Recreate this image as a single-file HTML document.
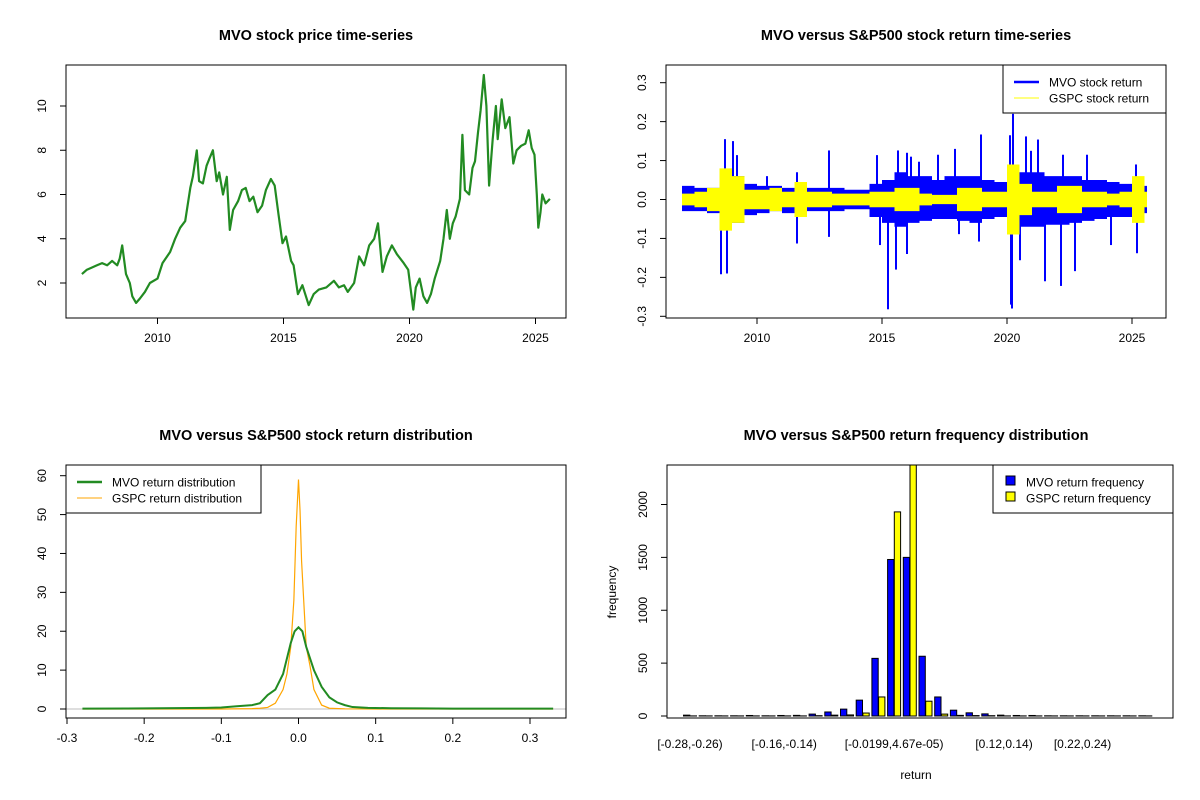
<!DOCTYPE html>
<html><head><meta charset="utf-8">
<style>
html,body{margin:0;padding:0;background:#fff;}
svg{display:block;font-family:"Liberation Sans",Arial,sans-serif;}
</style></head>
<body>
<svg id="s" width="1200" height="800" viewBox="0 0 1200 800"></svg>
<script>
// ---------- data ----------
const priceYears=[2007.0,2007.2,2007.4,2007.6,2007.8,2008.0,2008.2,2008.4,2008.5,2008.6,2008.75,2008.9,2009.0,2009.15,2009.3,2009.5,2009.7,2010.0,2010.2,2010.5,2010.7,2010.9,2011.1,2011.3,2011.4,2011.56,2011.65,2011.8,2011.95,2012.05,2012.2,2012.35,2012.45,2012.6,2012.75,2012.87,2013.0,2013.2,2013.35,2013.5,2013.65,2013.8,2013.97,2014.15,2014.3,2014.5,2014.65,2014.8,2014.96,2015.1,2015.3,2015.4,2015.57,2015.75,2016.0,2016.2,2016.4,2016.7,2017.0,2017.2,2017.4,2017.55,2017.8,2018.0,2018.2,2018.4,2018.6,2018.75,2018.93,2019.1,2019.3,2019.5,2019.77,2019.95,2020.15,2020.25,2020.4,2020.55,2020.7,2020.85,2021.0,2021.22,2021.35,2021.48,2021.6,2021.72,2021.83,2022.0,2022.1,2022.2,2022.37,2022.5,2022.6,2022.72,2022.82,2022.95,2023.05,2023.16,2023.3,2023.43,2023.5,2023.66,2023.8,2023.97,2024.12,2024.25,2024.43,2024.6,2024.73,2024.85,2024.96,2025.05,2025.11,2025.2,2025.27,2025.4,2025.57];
const priceVals=[2.4,2.6,2.7,2.8,2.9,2.8,3.0,2.8,3.1,3.7,2.4,2.0,1.4,1.1,1.3,1.6,2.0,2.2,2.9,3.4,4.0,4.5,4.8,6.3,6.8,8.0,6.6,6.5,7.3,7.6,8.0,6.6,7.0,6.0,6.8,4.4,5.3,5.7,6.2,6.3,5.7,5.9,5.2,5.5,6.2,6.7,6.4,5.1,3.8,4.1,3.0,2.8,1.5,1.9,1.0,1.5,1.7,1.8,2.1,1.8,1.9,1.6,2.0,3.2,2.8,3.7,4.0,4.7,2.5,3.2,3.7,3.3,2.9,2.6,0.8,1.8,2.2,1.4,1.1,1.5,2.2,3.0,4.0,5.3,4.0,4.7,5.0,5.8,8.7,6.2,6.0,7.2,7.5,8.8,9.8,11.4,10.0,6.4,8.5,10.0,8.5,10.3,9.0,9.5,7.4,8.0,8.2,8.3,8.9,8.1,7.8,6.0,4.5,5.2,6.0,5.6,5.8];

const bandYears=[2007.0,2007.5,2008.0,2008.5,2009.0,2009.5,2010.0,2010.5,2011.0,2011.5,2012.0,2012.5,2013.0,2013.5,2014.0,2014.5,2015.0,2015.5,2016.0,2016.5,2017.0,2017.5,2018.0,2018.5,2019.0,2019.5,2020.0,2020.5,2021.0,2021.5,2022.0,2022.5,2023.0,2023.5,2024.0,2024.5,2025.0,2025.5];
const mvoUp=[0.035,0.03,0.03,0.06,0.06,0.04,0.035,0.035,0.03,0.04,0.03,0.03,0.03,0.025,0.025,0.04,0.05,0.07,0.06,0.06,0.05,0.06,0.06,0.06,0.05,0.045,0.08,0.07,0.07,0.06,0.06,0.06,0.05,0.05,0.045,0.04,0.05,0.035];
const mvoDn=[-0.03,-0.03,-0.035,-0.06,-0.06,-0.04,-0.035,-0.03,-0.035,-0.045,-0.03,-0.03,-0.03,-0.025,-0.025,-0.045,-0.06,-0.07,-0.06,-0.055,-0.05,-0.05,-0.055,-0.06,-0.05,-0.045,-0.08,-0.07,-0.07,-0.065,-0.065,-0.06,-0.055,-0.05,-0.045,-0.045,-0.055,-0.035];
const gspcAmp=[0.015,0.02,0.03,0.08,0.06,0.025,0.025,0.03,0.02,0.045,0.02,0.02,0.015,0.015,0.015,0.02,0.02,0.03,0.03,0.015,0.012,0.012,0.03,0.03,0.02,0.02,0.09,0.04,0.02,0.02,0.035,0.035,0.02,0.02,0.015,0.02,0.06,0.02];
const spikeYears=[2008.72,2009.04,2009.2,2008.56,2012.88,2011.6,2010.4,2014.8,2015.64,2016.0,2016.16,2016.48,2017.24,2017.92,2018.96,2020.24,2020.12,2020.76,2021.24,2020.96,2022.24,2023.2,2025.16,2008.56,2008.8,2011.6,2012.88,2015.24,2014.92,2015.56,2016.0,2020.16,2020.2,2020.52,2021.52,2022.16,2022.72,2024.16,2025.2,2018.88,2018.08];
const spikeVals=[0.155,0.15,0.114,0.07,0.126,0.07,0.06,0.114,0.126,0.12,0.11,0.097,0.115,0.13,0.167,0.22,0.165,0.162,0.154,0.125,0.115,0.115,0.09,-0.192,-0.19,-0.113,-0.096,-0.282,-0.117,-0.18,-0.14,-0.27,-0.28,-0.156,-0.21,-0.222,-0.184,-0.117,-0.138,-0.108,-0.089];

const densX=[-0.28,-0.2,-0.12,-0.1,-0.08,-0.06,-0.05,-0.04,-0.03,-0.02,-0.01,-0.005,0,0.005,0.01,0.02,0.03,0.04,0.05,0.06,0.07,0.09,0.12,0.16,0.2,0.33];
const mvoDens=[0.1,0.15,0.3,0.4,0.7,1.0,1.5,3.6,5.0,9.0,17,20,21,20,16,10,5.7,3.0,1.7,1.0,0.5,0.3,0.2,0.15,0.1,0.1];
const gspcDensX=[-0.28,-0.1,-0.06,-0.05,-0.04,-0.03,-0.02,-0.015,-0.01,-0.006,-0.003,0,0.002,0.004,0.01,0.015,0.02,0.03,0.04,0.06,0.1,0.33];
const gspcDens=[0,0,0.1,0.2,0.4,1.5,5,9,16,28,47,59,51,38,16,11,5,1,0.2,0.05,0,0];

const histLabels=["[-0.28,-0.26)","","","","","","[-0.16,-0.14)","","","","","","","[-0.0199,4.67e-05)","","","","","","","[0.12,0.14)","","","","","[0.22,0.24)","","","",""];
const mvoFreq=[8,2,2,2,5,2,5,6,18,38,65,150,545,1480,1500,565,180,55,30,20,8,5,5,2,2,2,2,2,2,2];
const gspcFreq=[1,1,1,1,1,1,1,1,3,8,10,28,180,1930,2400,140,18,6,4,3,1,1,1,1,1,1,1,1,1,1];

// ---------- helpers ----------
const S=document.getElementById('s');
const NS='http://www.w3.org/2000/svg';
function mk(tag,attrs,parent){const e=document.createElementNS(NS,tag);for(const k in attrs)e.setAttribute(k,attrs[k]);(parent||S).appendChild(e);return e;}
function txt(x,y,str,opts,parent){const t=mk('text',Object.assign({x:x,y:y,'font-size':12,fill:'#000','text-anchor':'middle'},opts||{}),parent);t.textContent=str;return t;}
function lin(a,b,c,d){return v=>c+(v-a)*(d-c)/(b-a);}

// ---------- panel 1: price ----------
(function(){
 const g=mk('g',{});
 const L=66,R=566,T=65,B=318;
 const X=lin(2010,2025,157.5,535.5), Y=lin(2,10,283,106);
 let t=txt(316,40,'MVO stock price time-series',{'font-size':14.5,'font-weight':'bold'},g);
 let p=mk('polyline',{points:priceYears.map((y,i)=>X(y).toFixed(1)+','+Y(priceVals[i]).toFixed(1)).join(' '),fill:'none',stroke:'#228B22','stroke-width':2.2,'stroke-linejoin':'round'},g);
 
 let r=mk('rect',{x:L,y:T,width:R-L,height:B-T,fill:'none',stroke:'#000'},g);
 [2010,2015,2020,2025].forEach(v=>{mk('line',{x1:X(v),x2:X(v),y1:B,y2:B+6,stroke:'#000'},g);let l=txt(X(v),B+24,String(v),{},g);});
 [2,4,6,8,10].forEach(v=>{mk('line',{x1:L,x2:L-6,y1:Y(v),y2:Y(v),stroke:'#000'},g);let l=txt(0,0,String(v),{transform:`translate(46,${Y(v)}) rotate(-90)`},g);});
})();

// ---------- panel 2: returns ----------
(function(){
 const g=mk('g',{});
 const L=666,R=1166,T=65,B=318;
 const X=lin(2010,2025,757,1132), Y=lin(0,0.3,199.5,82.7);
 let t=txt(916,40,'MVO versus S&P500 stock return time-series',{'font-size':14.5,'font-weight':'bold'},g);
 const endY=2025.6;
 function band(up,dn,col,name){
   let top=[],bot=[];
   bandYears.forEach((y,i)=>{const y2=i<bandYears.length-1?bandYears[i+1]:endY;
     top.push(X(y)+','+Y(up[i]),X(y2)+','+Y(up[i]));
     bot.push(X(y)+','+Y(dn[i]),X(y2)+','+Y(dn[i]));});
   bot.reverse();
   let p=mk('polygon',{points:top.concat(bot).join(' '),fill:col},g);
 }
 band(mvoUp,mvoDn,'#0000FF','mvo-return-band');
 spikeYears.forEach((y,i)=>{let l=mk('line',{x1:X(y),x2:X(y),y1:Y(0),y2:Y(spikeVals[i]),stroke:'#0000FF','stroke-width':2},g);});
 band(gspcAmp,gspcAmp.map(v=>-v),'#FFFF00','gspc-return-band');
 let r=mk('rect',{x:L,y:T,width:R-L,height:B-T,fill:'none',stroke:'#000'},g);
 [2010,2015,2020,2025].forEach(v=>{mk('line',{x1:X(v),x2:X(v),y1:B,y2:B+6,stroke:'#000'},g);let l=txt(X(v),B+24,String(v),{},g);});
 [-0.3,-0.2,-0.1,0,0.1,0.2,0.3].forEach(v=>{mk('line',{x1:L,x2:L-6,y1:Y(v),y2:Y(v),stroke:'#000'},g);let l=txt(0,0,v.toFixed(1),{transform:`translate(646,${Y(v)}) rotate(-90)`},g);});
 let lg=mk('g',{},g);
 mk('rect',{x:1003,y:65,width:163,height:48,fill:'#fff',stroke:'#000'},lg);
 mk('line',{x1:1014,x2:1039,y1:82,y2:82,stroke:'#0000FF','stroke-width':2.5},lg);
 mk('line',{x1:1014,x2:1039,y1:98,y2:98,stroke:'#FFFF00','stroke-width':1},lg);
 txt(1049,86.5,'MVO stock return',{'text-anchor':'start'},lg);
 txt(1049,102.5,'GSPC stock return',{'text-anchor':'start'},lg);
})();

// ---------- panel 3: density ----------
(function(){
 const g=mk('g',{});
 const L=66,R=566,T=465,B=718;
 const X=lin(-0.3,0.3,67,530), Y=lin(0,60,709,475.7);
 let t=txt(316,440,'MVO versus S&P500 stock return distribution',{'font-size':14.5,'font-weight':'bold'},g);
 let z=mk('line',{x1:L,x2:R,y1:Y(0),y2:Y(0),stroke:'#bebebe'},g);
 let p2=mk('polyline',{points:gspcDensX.map((x,i)=>X(x)+','+Y(gspcDens[i])).join(' '),fill:'none',stroke:'#FFA500','stroke-width':1.2},g);
 let p1=mk('polyline',{points:densX.map((x,i)=>X(x)+','+Y(mvoDens[i])).join(' '),fill:'none',stroke:'#228B22','stroke-width':2},g);
 let r=mk('rect',{x:L,y:T,width:R-L,height:B-T,fill:'none',stroke:'#000'},g);
 [-0.3,-0.2,-0.1,0,0.1,0.2,0.3].forEach(v=>{mk('line',{x1:X(v),x2:X(v),y1:B,y2:B+6,stroke:'#000'},g);let l=txt(X(v),B+24,v.toFixed(1),{},g);});
 [0,10,20,30,40,50,60].forEach(v=>{mk('line',{x1:L,x2:L-6,y1:Y(v),y2:Y(v),stroke:'#000'},g);let l=txt(0,0,String(v),{transform:`translate(46,${Y(v)}) rotate(-90)`},g);});
 let lg=mk('g',{},g);
 mk('rect',{x:66,y:465,width:195,height:48,fill:'#fff',stroke:'#000'},lg);
 mk('line',{x1:77,x2:102,y1:482,y2:482,stroke:'#228B22','stroke-width':2.5},lg);
 mk('line',{x1:77,x2:102,y1:498,y2:498,stroke:'#FFA500','stroke-width':1},lg);
 txt(112,486.5,'MVO return distribution',{'text-anchor':'start'},lg);
 txt(112,502.5,'GSPC return distribution',{'text-anchor':'start'},lg);
})();

// ---------- panel 4: histogram ----------
(function(){
 const g=mk('g',{});
 const L=667,R=1173,T=465,B=718;
 const Y=lin(0,2000,716,504.5);
 const gx=i=>690+i*15.7;
 let t=txt(916,440,'MVO versus S&P500 return frequency distribution',{'font-size':14.5,'font-weight':'bold'},g);
 const cp=mk('clipPath',{id:'hc'},g);mk('rect',{x:L,y:T,width:R-L,height:B-T},cp);
 const bars=mk('g',{'clip-path':'url(#hc)'},g);
 mvoFreq.forEach((v,i)=>{
   let a=mk('rect',{x:gx(i)-6.5,y:Y(v),width:6.3,height:Y(0)-Y(v),fill:'#0000FF',stroke:'#000','stroke-width':1},bars);
   
   let b=mk('rect',{x:gx(i)+0.2,y:Y(gspcFreq[i]),width:6.3,height:Y(0)-Y(gspcFreq[i]),fill:'#FFFF00',stroke:'#000','stroke-width':1},bars);
   
 });
 let r=mk('rect',{x:L,y:T,width:R-L,height:B-T,fill:'none',stroke:'#000'},g);
 histLabels.forEach((s,i)=>{if(!s)return;let l=txt(gx(i),748,s,{},g);});
 [0,500,1000,1500,2000].forEach(v=>{mk('line',{x1:L,x2:L-6,y1:Y(v),y2:Y(v),stroke:'#000'},g);let l=txt(0,0,String(v),{transform:`translate(647,${Y(v)}) rotate(-90)`},g);});
 let xt=txt(916,779,'return',{},g);
 let yt=txt(0,0,'frequency',{transform:'translate(616,592) rotate(-90)'},g);
 let lg=mk('g',{},g);
 mk('rect',{x:993,y:465,width:180,height:48,fill:'#fff',stroke:'#000'},lg);
 mk('rect',{x:1006,y:476,width:9,height:9,fill:'#0000FF',stroke:'#000'},lg);
 mk('rect',{x:1006,y:492,width:9,height:9,fill:'#FFFF00',stroke:'#000'},lg);
 txt(1026,486.5,'MVO return frequency',{'text-anchor':'start'},lg);
 txt(1026,502.5,'GSPC return frequency',{'text-anchor':'start'},lg);
})();
</script>
</body></html>
